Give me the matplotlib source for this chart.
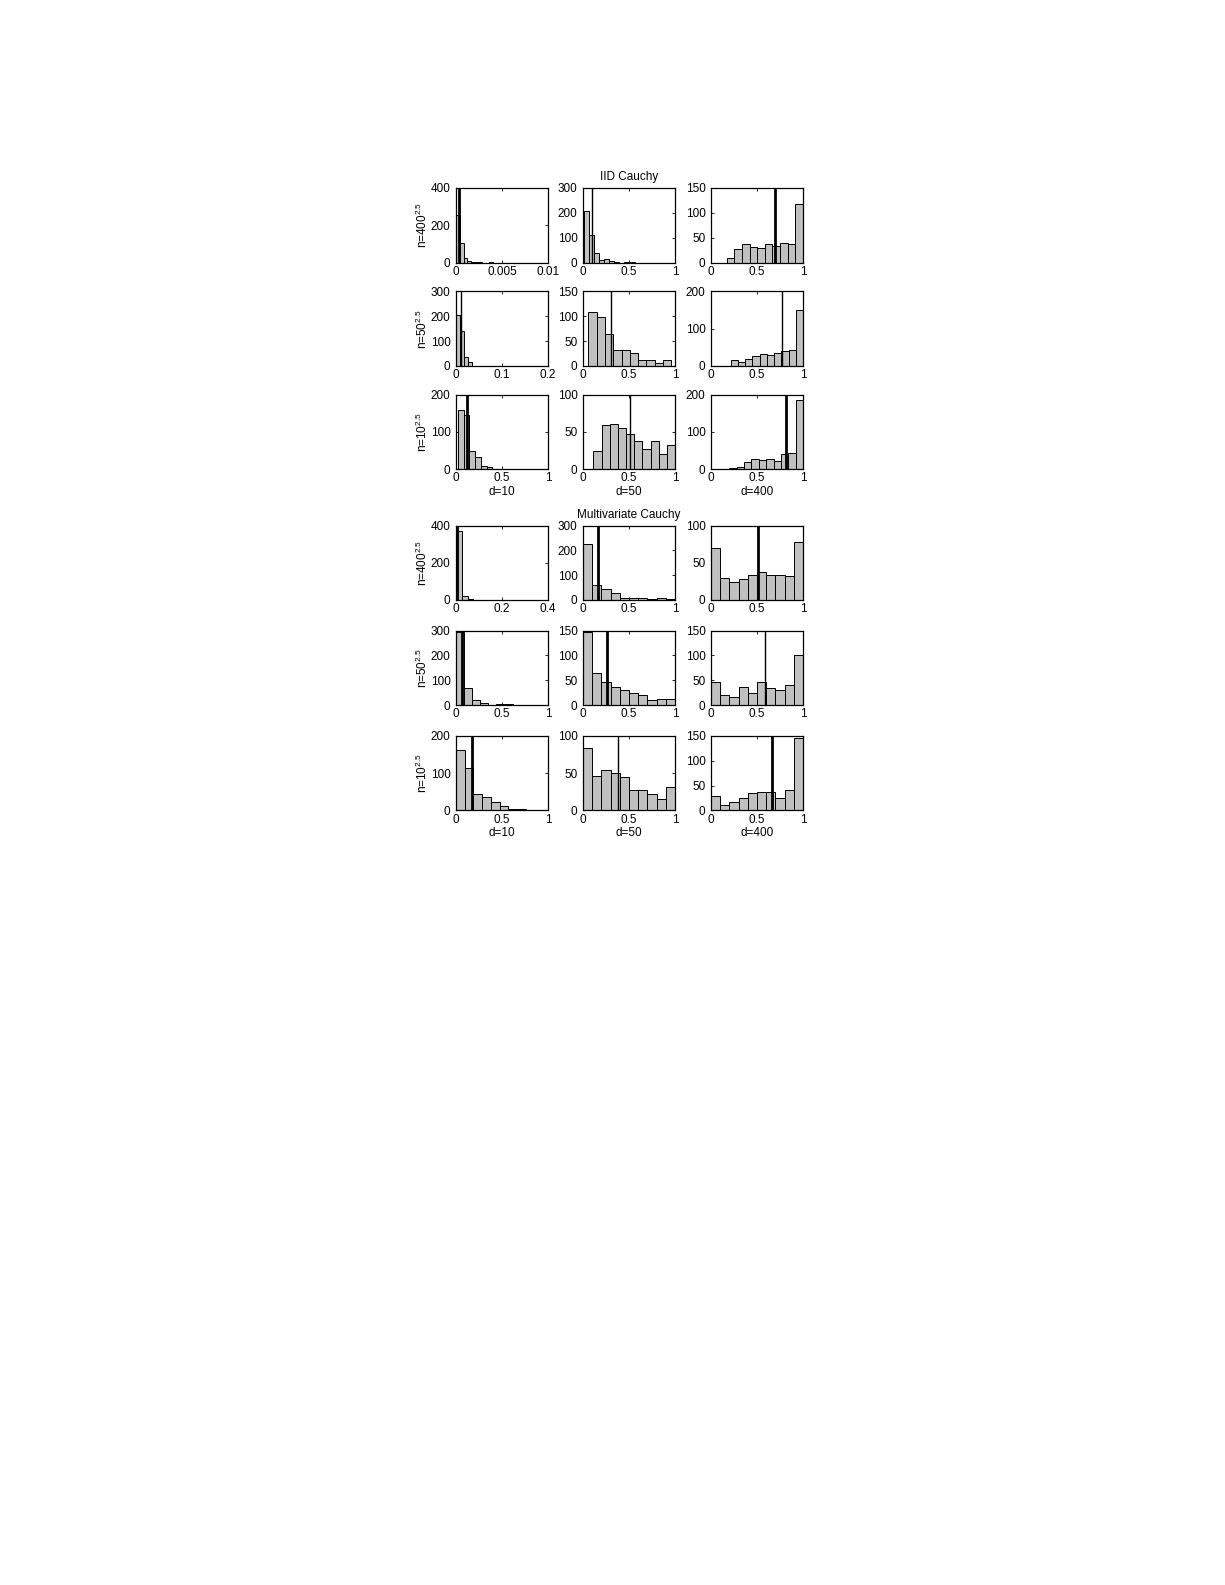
import matplotlib
matplotlib.use("Agg")
import matplotlib.pyplot as plt
import numpy as np

plt.rcParams['font.family'] = ['Liberation Sans', 'DejaVu Sans']
plt.rcParams['mathtext.fontset'] = 'custom'
plt.rcParams['mathtext.rm'] = 'Liberation Sans'
plt.rcParams['mathtext.it'] = 'Liberation Sans'

row_labels = [r'n=400$^{2.5}$', r'n=50$^{2.5}$', r'n=10$^{2.5}$']
col_labels = ['d=10', 'd=50', 'd=400']
group_titles = ['IID Cauchy', 'Multivariate Cauchy']

# ---- IID Cauchy: counts per panel (rows n=400,50,10 ; cols d=10,50,400)
iid_counts = [
    [[253, 106, 24, 9, 4, 2, 1, 0, 0, 1],
     [207, 109, 40, 12, 15, 8, 4, 0, 2, 3],
     [9, 27, 37, 32, 29, 37, 33, 39, 37, 117]],
    [[207, 139, 35, 16, 1, 1, 2, 1, 0, 1],
     [108, 98, 64, 32, 32, 26, 12, 12, 7, 12],
     [15, 11, 19, 27, 31, 29, 34, 39, 44, 151]],
    [[158, 144, 48, 32, 9, 6, 1, 1, 0, 1],
     [24, 59, 61, 55, 47, 37, 27, 37, 20, 32],
     [2, 5, 20, 27, 23, 27, 22, 39, 42, 184]],
]
iid_bin_start = [[0.00002, 0.011, 0.17], [0.0, 0.059, 0.215], [0.022, 0.113, 0.2]]
iid_bin_width = [[0.0004, 0.055, 0.083], [0.0087, 0.09, 0.0785], [0.062, 0.0887, 0.08]]
iid_vline = [[0.00033, 0.095, 0.70], [0.0116, 0.30, 0.77], [0.12, 0.51, 0.82]]
iid_vthick = [[True, False, True], [False, False, False], [True, False, True]]

# ---- Multivariate Cauchy
mv_counts = [
    [[371, 20, 5, 2, 1, 0, 0, 0, 0, 1],
     [225, 62, 45, 28, 7, 7, 7, 3, 7, 5],
     [70, 29, 24, 28, 33, 38, 33, 34, 32, 78]],
    [[292, 68, 22, 10, 2, 3, 3, 1, 0, 1],
     [146, 65, 46, 36, 30, 24, 20, 10, 12, 12],
     [47, 21, 17, 37, 24, 47, 34, 31, 41, 101]],
    [[163, 113, 45, 35, 22, 12, 5, 3, 2, 0],
     [84, 46, 55, 50, 45, 28, 28, 22, 15, 32],
     [30, 12, 17, 26, 35, 37, 38, 25, 42, 145]],
]
mv_bin_start = [[0.0, 0.0, 0.0], [0.0, 0.0, 0.0], [0.0, 0.0, 0.0]]
mv_bin_width = [[0.025, 0.1, 0.1], [0.088, 0.1, 0.1], [0.095, 0.1, 0.1]]
mv_vline = [[0.006, 0.164, 0.51], [0.06, 0.26, 0.59], [0.17, 0.385, 0.667]]
mv_vthick = [[True, True, True], [True, True, False], [True, False, True]]

# axis settings
iid_xlim = [[0.01, 1, 1], [0.2, 1, 1], [1, 1, 1]]
iid_xticks = [[[0, 0.005, 0.01], [0, 0.5, 1], [0, 0.5, 1]],
              [[0, 0.1, 0.2], [0, 0.5, 1], [0, 0.5, 1]],
              [[0, 0.5, 1], [0, 0.5, 1], [0, 0.5, 1]]]
iid_xticklabels = [[['0', '0.005', '0.01'], ['0', '0.5', '1'], ['0', '0.5', '1']],
                   [['0', '0.1', '0.2'], ['0', '0.5', '1'], ['0', '0.5', '1']],
                   [['0', '0.5', '1'], ['0', '0.5', '1'], ['0', '0.5', '1']]]
iid_ylim = [[400, 300, 150], [300, 150, 200], [200, 100, 200]]
iid_ystep = [[200, 100, 50], [100, 50, 100], [100, 50, 100]]

mv_xlim = [[0.4, 1, 1], [1, 1, 1], [1, 1, 1]]
mv_xticks = [[[0, 0.2, 0.4], [0, 0.5, 1], [0, 0.5, 1]],
             [[0, 0.5, 1], [0, 0.5, 1], [0, 0.5, 1]],
             [[0, 0.5, 1], [0, 0.5, 1], [0, 0.5, 1]]]
mv_xticklabels = [[['0', '0.2', '0.4'], ['0', '0.5', '1'], ['0', '0.5', '1']],
                  [['0', '0.5', '1'], ['0', '0.5', '1'], ['0', '0.5', '1']],
                  [['0', '0.5', '1'], ['0', '0.5', '1'], ['0', '0.5', '1']]]
mv_ylim = [[400, 300, 100], [300, 150, 150], [200, 100, 150]]
mv_ystep = [[200, 100, 50], [100, 50, 50], [100, 50, 50]]

W, H = 1225, 1585
fig = plt.figure(figsize=(W / 100, H / 100), dpi=100)

col_left = [456, 583, 711]
ax_w, ax_h = 92, 74.5
row_top = [[188, 291.5, 394.5], [525.5, 630.5, 736]]

FS = 8.5
groups = [
    (iid_counts, iid_bin_start, iid_bin_width, iid_vline, iid_vthick,
     iid_xlim, iid_xticks, iid_xticklabels, iid_ylim, iid_ystep),
    (mv_counts, mv_bin_start, mv_bin_width, mv_vline, mv_vthick,
     mv_xlim, mv_xticks, mv_xticklabels, mv_ylim, mv_ystep),
]

for g, (counts, bstart, bwidth, vline, vthick, xlim, xticks, xtl, ylim, ystep) in enumerate(groups):
    for r in range(3):
        for c in range(3):
            left = col_left[c] / W
            bottom = 1 - (row_top[g][r] + ax_h) / H
            ax = fig.add_axes([left, bottom, ax_w / W, ax_h / H])
            cnt = np.array(counts[r][c], dtype=float)
            edges = bstart[r][c] + bwidth[r][c] * np.arange(len(cnt) + 1)
            centers = 0.5 * (edges[:-1] + edges[1:])
            ax.bar(centers, cnt, width=bwidth[r][c], color='#c0c0c0',
                   edgecolor='black', linewidth=0.7, zorder=2)
            ax.axvline(vline[r][c], color='black',
                       linewidth=2.0 if vthick[r][c] else 1.0, zorder=3)
            ax.set_xlim(0, xlim[r][c])
            ax.set_ylim(0, ylim[r][c])
            ax.set_xticks(xticks[r][c])
            ax.set_xticklabels(xtl[r][c])
            yt = np.arange(0, ylim[r][c] + 1, ystep[r][c])
            ax.set_yticks(yt)
            ax.set_yticklabels([str(int(v)) for v in yt])
            ax.tick_params(direction='in', length=2, width=0.6, labelsize=FS,
                           top=True, right=True)
            ax.tick_params(axis='y', pad=4)
            ax.tick_params(axis='x', pad=2.5)
            for s in ax.spines.values():
                s.set_linewidth(0.9)
            if c == 0:
                ax.set_ylabel(row_labels[r], fontsize=FS, labelpad=0.5)
            if r == 2:
                ax.set_xlabel(col_labels[c], fontsize=FS, labelpad=1)
            if r == 0 and c == 1:
                ax.set_title(group_titles[g], fontsize=FS, pad=5.5)

fig.savefig('out.png', dpi=100)
